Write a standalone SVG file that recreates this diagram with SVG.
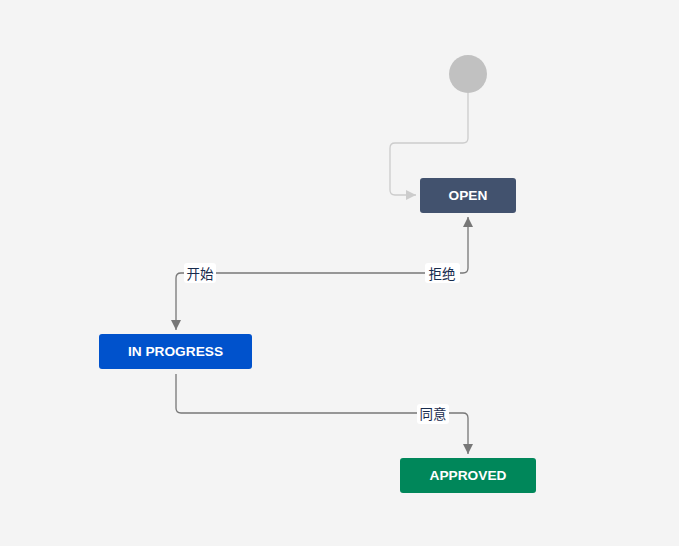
<svg xmlns="http://www.w3.org/2000/svg" width="679" height="546" viewBox="0 0 679 546">
<style>
.node text{font-family:"Liberation Sans",Arial,sans-serif;font-weight:bold;font-size:13.7px;fill:#fff;text-anchor:middle;dominant-baseline:central}
.edge{fill:none;stroke:#777;stroke-width:1.3}
.lbl rect{fill:#fff}
.lbl text{font-family:"Noto Sans CJK SC","Liberation Sans",sans-serif;font-size:13.5px;fill:#172b4d;text-anchor:middle;dominant-baseline:central}
</style>
<defs>
<marker id="arr" viewBox="0 0 10 10" refX="10" refY="5" markerWidth="10" markerHeight="10" markerUnits="userSpaceOnUse" orient="auto"><path d="M0,0 L10,5 L0,10 Z" fill="#777"/></marker>
<marker id="arrl" viewBox="0 0 10 10" refX="10" refY="5" markerWidth="10" markerHeight="10" markerUnits="userSpaceOnUse" orient="auto"><path d="M0,0 L10,5 L0,10 Z" fill="#ccc"/></marker>
</defs>
<rect width="679" height="546" fill="#f4f4f4"/>
<g id="connectors">
<path d="M468 93 V138 Q468 143 463 143 H395 Q390 143 390 148 V190 Q390 195 395 195 H416" fill="none" stroke="#ccc" stroke-width="1.3" marker-end="url(#arrl)"/>
<path class="edge" d="M442 273 H181 Q176 273 176 278 V330" marker-end="url(#arr)"/>
<path class="edge" d="M442 273 H463 Q468 273 468 268 V217" marker-end="url(#arr)"/>
<path class="edge" d="M176 374 V408 Q176 413 181 413 H463 Q468 413 468 418 V454" marker-end="url(#arr)"/>
<g class="lbl"><rect x="184" y="263" width="32" height="20" rx="3"/><text x="200" y="273">开始</text></g>
<g class="lbl"><rect x="425" y="263" width="35" height="20" rx="3"/><text x="442" y="273">拒绝</text></g>
<g class="lbl"><rect x="417" y="404" width="32" height="20" rx="3"/><text x="433" y="413">同意</text></g>
</g>
<g id="start"><circle cx="468" cy="74" r="19" fill="#c1c1c1"/></g>
<g id="open" class="node"><rect x="420" y="178" width="96" height="35" rx="3" fill="#42526e"/><text x="468" y="195.5">OPEN</text></g>
<g id="inprogress" class="node"><rect x="99" y="334" width="153" height="35" rx="3" fill="#0052cc"/><text x="175.5" y="351.5">IN PROGRESS</text></g>
<g id="approved" class="node"><rect x="400" y="458" width="136" height="35" rx="3" fill="#00875a"/><text x="468" y="475.5">APPROVED</text></g>
</svg>
